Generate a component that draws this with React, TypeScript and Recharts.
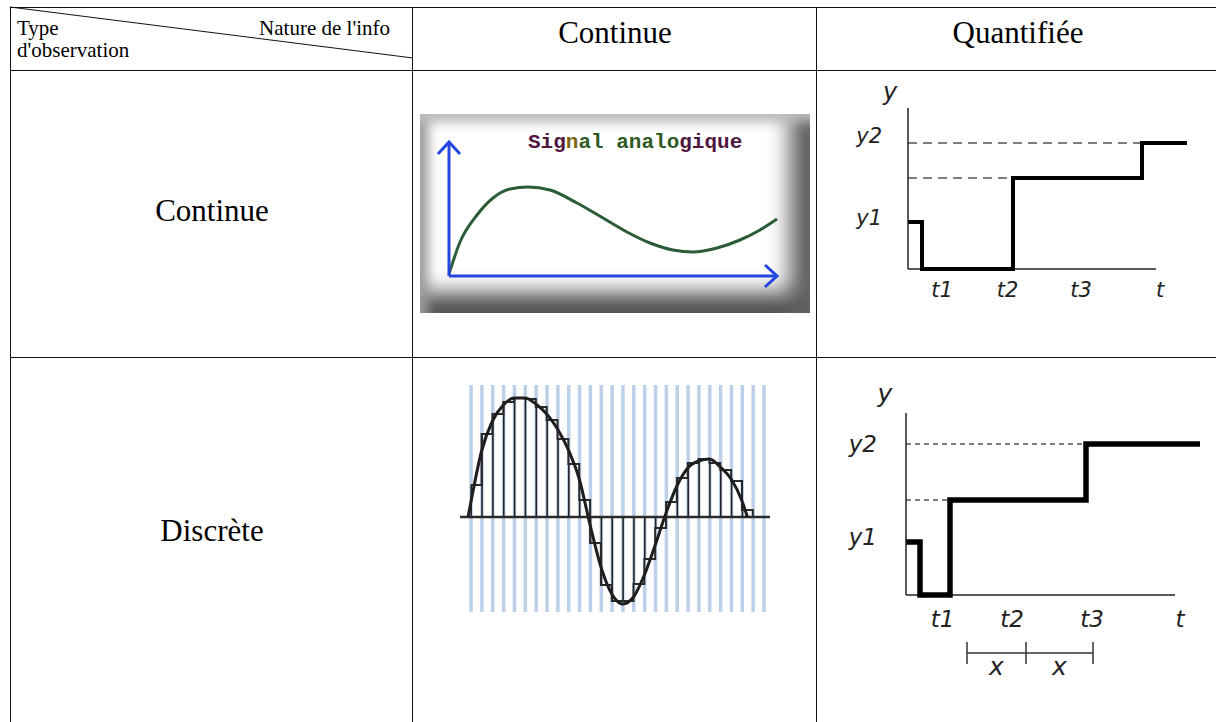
import React from 'react';
import { LineChart, Line, ComposedChart, Bar, XAxis, YAxis, ReferenceLine } from 'recharts';

// analog signal (Continue / Continue)
const analogT = [0, 11, 28, 44, 61, 79, 101, 128, 154, 178, 201, 224, 244, 268, 291, 311, 328];
const analogY = [2, 34, 61, 78, 87, 89, 86, 73, 58, 44, 33, 26, 24, 28, 36, 46, 57];

// sampled signal (Discrète / Continue)
const stripeIdx = [0, 1, 2, 3, 4, 5, 6, 7, 8, 9, 10, 11, 12, 13, 14, 15, 16, 17, 18, 19, 20, 21, 22, 23, 24, 25, 26, 27];
const sampleHold = [32, 83, 103, 115, 119, 118, 110, 97, 78, 53, 17, -26, -68, -84, -84, -67, -42, -11, 15, 39, 54, 58, 54, 47, 36, 7, 0];
const curveIdx = [-0.25, 0, 1, 2, 3, 4, 5, 6, 7, 8, 9, 10, 11, 12, 13, 14, 15, 16, 17, 18, 19, 20, 21, 22, 23, 24, 25, 25.5];
const curveVal = [0, 14, 66, 96, 112, 119, 119, 113, 103, 88, 67, 38, -8, -50, -77, -87, -80, -58, -28, 4, 31, 49, 56, 58, 50, 38, 16, 0];
const stripeBand = [-95, 132];

// quantified, continuous time
const qcT = [0, 14, 105, 234, 279];
const qcY = [47, 0, 91, 126, 126];
const qcTickT = [34, 99.5, 173, 252];
const qcTickY = [47, 126];
const qcLevelY = [126, 91];
const qcLevelEnd = [234, 105];
const qcAxisEnd = 248;

// quantified, discrete time
const qdT = [0, 14, 44, 180, 294];
const qdY = [53, 0, 95, 151, 151];
const qdTickT = [36.5, 106, 186, 274];
const qdTickY = [53, 151];
const qdLevelY = [151, 95];
const qdLevelEnd = [177, 44];
const qdAxisEnd = 269;
const qdStepBounds = [61, 120, 187];

const tLabels = ['t1', 't2', 't3', 't'];
const yLabels = ['y1', 'y2'];
const stepLabel = 'x';

const analogData = analogT.map((t, i) => ({ t, v: analogY[i] }));
const sampleData = stripeIdx.map((i, k) => ({ i, v: sampleHold[k], band: stripeBand }));
const curveData = curveIdx.map((i, k) => ({ i, f: curveVal[k] }));
const qcData = qcT.map((t, i) => ({ t, v: qcY[i] }));
const qdData = qdT.map((t, i) => ({ t, v: qdY[i] }));

const hand = { fontFamily: '"DejaVu Sans", sans-serif', fontStyle: 'italic' as const, fill: '#222' };

const makeXTick = (ticks: number[], dy: number, size: number) => (props: any) => {
  const { x, y, payload } = props;
  const k = ticks.indexOf(payload.value);
  return (
    <text x={x} y={y + dy} textAnchor="middle" fontSize={size} {...hand}>
      {tLabels[k]}
    </text>
  );
};

const makeYTick = (ticks: number[], dys: number[], size: number) => (props: any) => {
  const { x, y, payload } = props;
  const k = ticks.indexOf(payload.value);
  return (
    <text x={x} y={y + dys[k]} textAnchor="end" fontSize={size} {...hand}>
      {yLabels[k]}
    </text>
  );
};

const yTopLabel = (dx: number, dy: number, size: number) => (props: any) => {
  const vb = props.viewBox;
  return (
    <text x={vb.x + vb.width + dx} y={vb.y + dy} textAnchor="middle" fontSize={size} {...hand}>
      y
    </text>
  );
};

const blueAxis = '#2445e0';

// bevelled frame around the analog plot
const bevelShadow = [
  'inset 0 16px 12px -8px #bdbdbd',
  'inset 16px 0 12px -8px #9c9c9c',
  'inset -30px 0 22px -10px #5e5e5e',
  'inset 0 -30px 22px -10px #4e4e4e',
].join(', ');

const AnalogChart = () => (
  <div style={{ position: 'absolute', left: 420, top: 114, width: 390, height: 199, background: '#fff', boxShadow: bevelShadow }}>
    <LineChart width={390} height={199} data={analogData} margin={{ top: 28, right: 33, bottom: 35, left: 27 }}>
      <XAxis type="number" dataKey="t" domain={[0, 328]} height={2} tick={false} tickLine={false}
        axisLine={{ stroke: blueAxis, strokeWidth: 3, markerEnd: 'url(#blueArrow)' }} />
      <YAxis type="number" domain={[0, 134]} width={2} tick={false} tickLine={false}
        axisLine={{ stroke: blueAxis, strokeWidth: 3, markerStart: 'url(#blueArrow)' }} />
      <Line type="monotone" dataKey="v" stroke="#2b5c38" strokeWidth={3} dot={false} isAnimationActive={false} />
    </LineChart>
  </div>
);

const SampledChart = () => (
  <div style={{ position: 'absolute', left: 460, top: 385 }}>
    <ComposedChart width={310} height={227} data={sampleData} margin={{ top: 0, right: 0, bottom: 0, left: 0 }}>
      <XAxis type="number" dataKey="i" domain={[-0.99, 27.58]} hide />
      <XAxis type="number" dataKey="i" xAxisId="stripes" domain={[-0.99, 27.58]} hide />
      <YAxis type="number" domain={[-95, 132]} hide />
      <Bar xAxisId="stripes" dataKey="band" barSize={3.5} fill="#bcd0ea" isAnimationActive={false} />
      <ReferenceLine y={0} stroke="#2a2a2a" strokeWidth={2.5} />
      <Bar dataKey="v" barSize={1.6} fill="#222" isAnimationActive={false} />
      <Line type="stepAfter" dataKey="v" stroke="#2a2a2a" strokeWidth={2} dot={false} isAnimationActive={false} />
      <Line data={curveData} type="monotone" dataKey="f" stroke="#1e1e1e" strokeWidth={3} dot={false} isAnimationActive={false} />
    </ComposedChart>
  </div>
);

const QuantContinuous = () => (
  <div style={{ position: 'absolute', left: 830, top: 75 }}>
    <LineChart width={362} height={234} data={qcData} margin={{ top: 33, right: 5, bottom: 0, left: 0 }}>
      <XAxis type="number" dataKey="t" domain={[0, 279]} height={40} ticks={qcTickT} interval={0}
        axisLine={false} tickLine={false} tickSize={0} tickMargin={0} tick={makeXTick(qcTickT, 28, 21)} />
      <YAxis type="number" domain={[0, 161]} width={78} ticks={qcTickY} interval={0}
        axisLine={{ stroke: '#222', strokeWidth: 1.5 }} tickLine={false} tickSize={0} tickMargin={26}
        tick={makeYTick(qcTickY, [3, 0], 21)} label={{ content: yTopLabel(-18, -8, 24) }} />
      <ReferenceLine segment={[{ x: 0, y: 0 }, { x: qcAxisEnd, y: 0 }]} stroke="#222" strokeWidth={1.5} />
      {qcLevelY.map((ly, k) => (
        <ReferenceLine key={k} segment={[{ x: 0, y: ly }, { x: qcLevelEnd[k], y: ly }]} stroke="#000" strokeWidth={1.2} strokeDasharray="9 6" />
      ))}
      <Line type="stepAfter" dataKey="v" stroke="#000" strokeWidth={4} dot={false} isAnimationActive={false} />
    </LineChart>
  </div>
);

const QuantDiscrete = () => (
  <div style={{ position: 'absolute', left: 828, top: 370 }}>
    <LineChart width={378} height={325} data={qdData} margin={{ top: 43, right: 6, bottom: 0, left: 0 }}>
      <XAxis type="number" dataKey="t" domain={[0, 294]} height={100} ticks={qdTickT} interval={0}
        axisLine={false} tickLine={false} tickSize={0} tickMargin={0} tick={makeXTick(qdTickT, 32, 23)} />
      <YAxis type="number" domain={[0, 182]} width={78} ticks={qdTickY} interval={0}
        axisLine={{ stroke: '#222', strokeWidth: 1.5 }} tickLine={false} tickSize={0} tickMargin={29}
        tick={makeYTick(qdTickY, [3, 8], 23)} label={{ content: yTopLabel(-21, -11, 25) }} />
      <ReferenceLine segment={[{ x: 0, y: 0 }, { x: qdAxisEnd, y: 0 }]} stroke="#222" strokeWidth={1.5} />
      {qdLevelY.map((ly, k) => (
        <ReferenceLine key={k} segment={[{ x: 0, y: ly }, { x: qdLevelEnd[k], y: ly }]} stroke="#000" strokeWidth={1.2} strokeDasharray="5 4" />
      ))}
      {qdStepBounds.slice(1).map((b, k) => (
        <ReferenceLine key={'s' + k} ifOverflow="visible"
          segment={[{ x: qdStepBounds[k], y: -58 }, { x: b, y: -58 }]} stroke="#333" strokeWidth={1.5}
          label={{ value: stepLabel, position: 'bottom', offset: 4, fontSize: 25, ...hand }} />
      ))}
      {qdStepBounds.map((b, k) => (
        <ReferenceLine key={'b' + k} ifOverflow="visible"
          segment={[{ x: b, y: -47 }, { x: b, y: -69 }]} stroke="#333" strokeWidth={1.5} />
      ))}
      <Line type="stepAfter" dataKey="v" stroke="#000" strokeWidth={5.5} dot={false} isAnimationActive={false} />
    </LineChart>
  </div>
);

const serif = '"Liberation Serif", "Times New Roman", serif';

export default function App() {
  return (
    <div style={{ position: 'absolute', left: 0, top: 0, width: 1216, height: 722, background: '#fff', overflow: 'hidden' }}>
      <svg width={0} height={0} style={{ position: 'absolute' }}>
        <defs>
          <marker id="blueArrow" markerUnits="userSpaceOnUse" viewBox="-16 -14 20 28" markerWidth={20} markerHeight={28}
            refX={0} refY={0} orient="auto-start-reverse">
            <path d="M -12 -11 L 0 0 L -12 11" fill="none" stroke={blueAxis} strokeWidth={3} />
          </marker>
        </defs>
      </svg>
      <AnalogChart />
      <SampledChart />
      <QuantContinuous />
      <QuantDiscrete />
      <svg width={1216} height={722} style={{ position: 'absolute', left: 0, top: 0, pointerEvents: 'none' }}>
        <g stroke="#111" strokeWidth={1} shapeRendering="crispEdges">
          <line x1={10} y1={7.5} x2={1216} y2={7.5} />
          <line x1={10} y1={70.5} x2={1216} y2={70.5} />
          <line x1={10} y1={357.5} x2={1216} y2={357.5} />
          <line x1={10.5} y1={7} x2={10.5} y2={722} />
          <line x1={412.5} y1={7} x2={412.5} y2={722} />
          <line x1={816.5} y1={7} x2={816.5} y2={722} />
        </g>
        <line x1={10} y1={7} x2={413} y2={58} stroke="#111" strokeWidth={1} />
        <g fontFamily={serif} fill="#000">
          <text x={17} y={35} fontSize={21}>Type</text>
          <text x={17} y={57} fontSize={21}>d'observation</text>
          <text x={390} y={35} fontSize={21} textAnchor="end">Nature de l'info</text>
          <text x={615} y={43} fontSize={31} textAnchor="middle">Continue</text>
          <text x={1018} y={43} fontSize={31} textAnchor="middle">Quantifiée</text>
          <text x={212} y={221} fontSize={31} textAnchor="middle">Continue</text>
          <text x={212} y={541} fontSize={31} textAnchor="middle">Discrète</text>
        </g>
        <text x={528} y={148} fontFamily='"Liberation Mono", monospace' fontWeight="bold" fontSize={21}>
          <tspan fill="#4f1640">Sig</tspan>
          <tspan fill="#7a6412">n</tspan>
          <tspan fill="#2e5a22">al analo</tspan>
          <tspan fill="#4f1640">gique</tspan>
        </text>
      </svg>
    </div>
  );
}
